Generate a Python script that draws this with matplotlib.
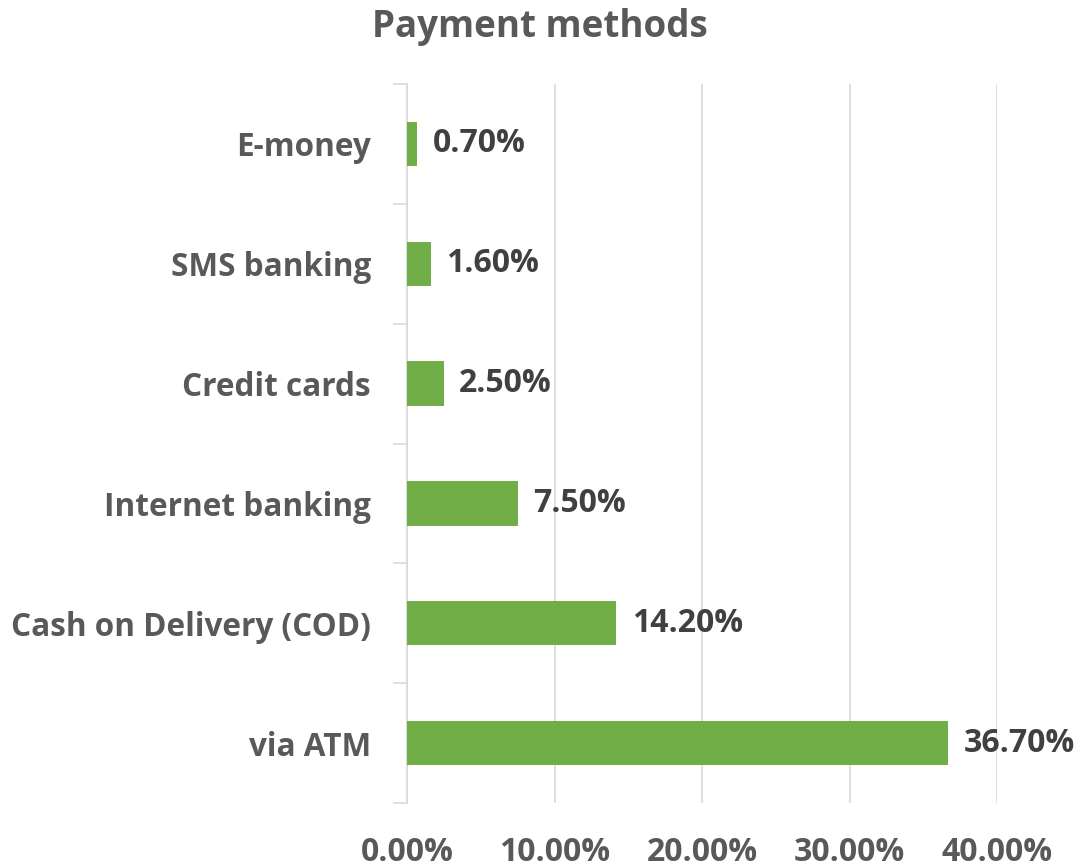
import matplotlib
matplotlib.use("Agg")
import matplotlib.pyplot as plt
from matplotlib.ticker import FuncFormatter

categories = ["via ATM", "Cash on Delivery (COD)", "Internet banking",
              "Credit cards", "SMS banking", "E-money"]
values = [36.7, 14.2, 7.5, 2.5, 1.6, 0.7]
x_ticks = [0, 10, 20, 30, 40]
title = "Payment methods"

plt.rcParams['font.family'] = ['Open Sans', 'DejaVu Sans']
plt.rcParams['font.weight'] = 'bold'

fig = plt.figure(figsize=(10.81, 8.68), dpi=100)
ax = fig.add_axes([407/1081, 1-803/868, 590/1081, (803-84)/868])

ypos = list(range(len(categories)))
ax.barh(ypos, values, height=0.37, color="#70AD47", zorder=3)
ax.set_ylim(-0.5, len(categories) - 0.5)
ax.set_xlim(0, 40)

for y, v in zip(ypos, values):
    ax.annotate(f"{v:.2f}%", xy=(v, y), xytext=(11, 0), textcoords="offset points",
                va="center", ha="left", fontsize=23, fontweight="bold", color="#404040")

ax.set_xticks(x_ticks)
ax.xaxis.set_major_formatter(FuncFormatter(lambda x, p: f"{x:.2f}%"))
ax.tick_params(axis="x", length=0, pad=24, labelsize=23, labelcolor="#595959")
ax.set_yticks(ypos)
ax.set_yticklabels(categories)
ax.set_yticks([i - 0.5 for i in range(len(categories) + 1)], minor=True)
ax.tick_params(axis="y", which="major", length=0, pad=26, labelsize=22.7, labelcolor="#595959")
ax.tick_params(axis="y", which="minor", length=10, width=1.2, color="#d9d9d9")

ax.grid(axis="x", color="#d9d9d9", linewidth=1.2, zorder=0)
for s in ["top", "right", "bottom"]:
    ax.spines[s].set_visible(False)
ax.spines["left"].set_color("#d9d9d9")
ax.spines["left"].set_linewidth(1.2)

fig.text(540/1081, 1-27/868, title, ha="center", va="center",
         fontsize=26.5, fontweight="bold", color="#595959")

fig.savefig("out.png", dpi=100)
